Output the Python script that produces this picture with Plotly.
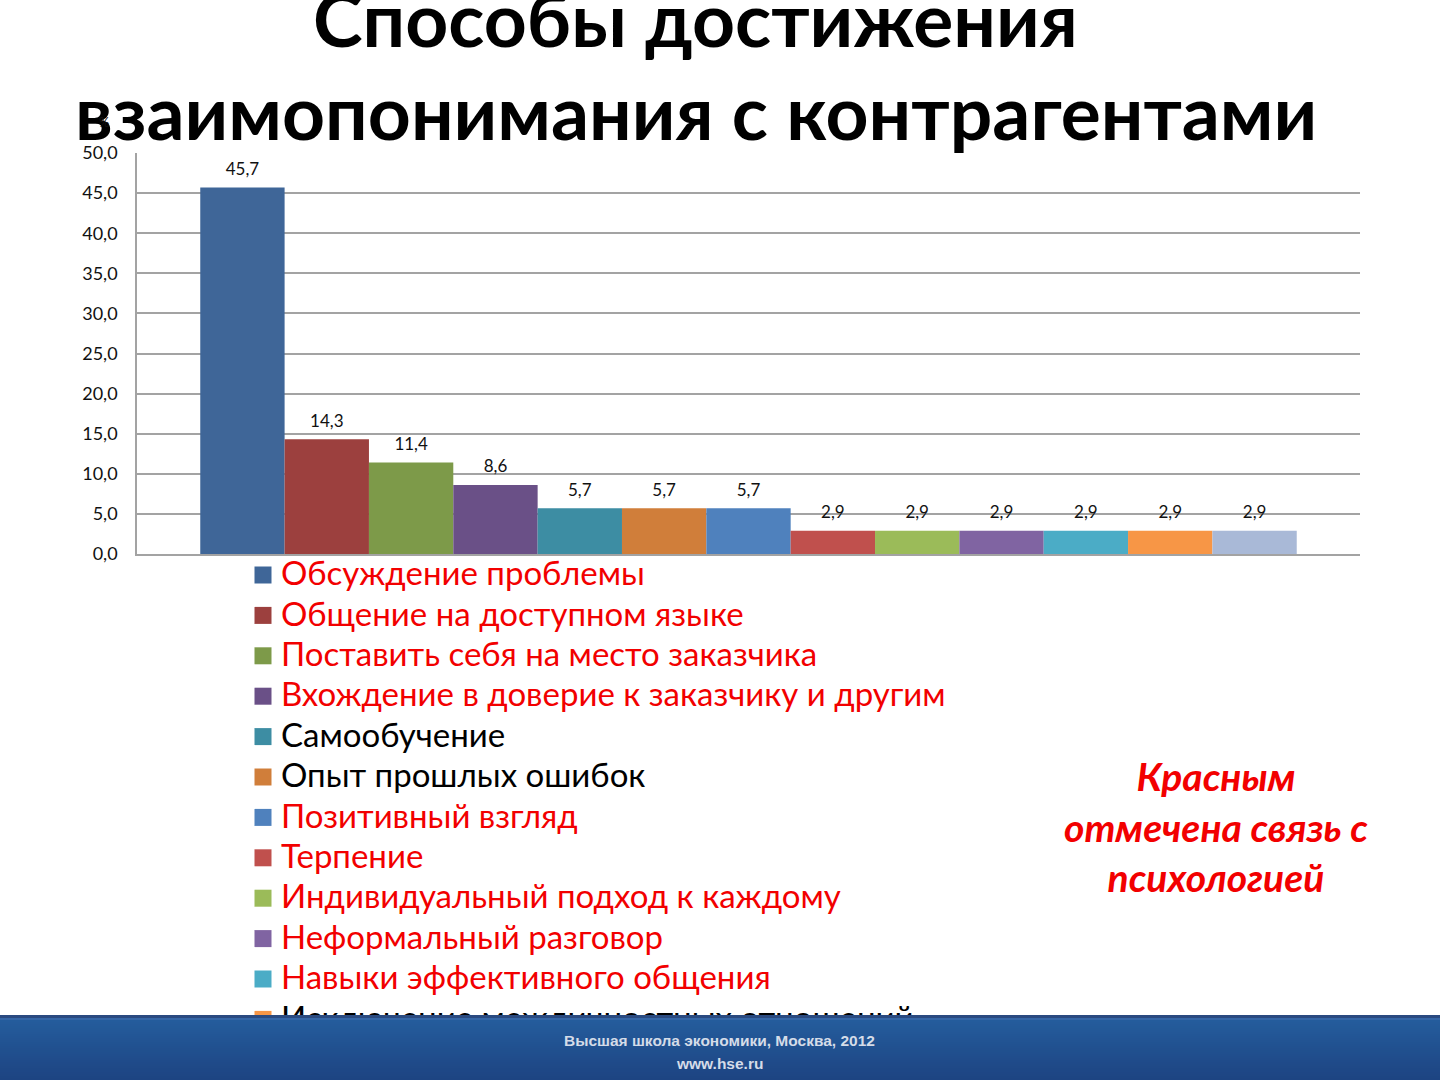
import plotly.graph_objects as go

# ---------------- data ----------------
categories = [
    "Обсуждение проблемы",
    "Общение на доступном языке",
    "Поставить себя на место заказчика",
    "Вхождение в доверие к заказчику и другим",
    "Самообучение",
    "Опыт прошлых ошибок",
    "Позитивный взгляд",
    "Терпение",
    "Индивидуальный подход к каждому",
    "Неформальный разговор",
    "Навыки эффективного общения",
    "Исключение межличностных отношений",
    "Другое",
]
values = [45.7, 14.3, 11.4, 8.6, 5.7, 5.7, 5.7, 2.9, 2.9, 2.9, 2.9, 2.9, 2.9]
psychology = [True, True, True, True, False, False, True, True, True, True, True, False, False]
colors = ["#3F6698", "#9C403E", "#7D9A49", "#6A5087", "#3D8DA3", "#D07E3A", "#4F81BD",
          "#C0504D", "#9BBB59", "#8064A2", "#4BACC6", "#F79646", "#A9B9D7"]
y_ticks = [0, 5, 10, 15, 20, 25, 30, 35, 40, 45, 50]

W, H = 1440, 1080
RED = "#F20000"
GRID = "#A3A3A3"


def px_y(p):
    return 1 - p / H


def px_x(p):
    return p / W


fig = go.Figure()
idx = list(range(len(categories)))

# bars: 13 series side by side (Excel gap width 150 %)
for i, (name, v, c) in enumerate(zip(categories, values, colors)):
    fig.add_trace(go.Bar(
        x=[i], y=[v], width=1, name=name,
        marker=dict(color=c, line=dict(width=0)),
        showlegend=False, xaxis="x", yaxis="y", hoverinfo="name+y",
    ))

# data labels
fig.add_trace(go.Scatter(
    x=idx, y=values, mode="markers+text", texttemplate="%{y:.1f}",
    textposition="top center",
    marker=dict(size=12, opacity=0),
    textfont=dict(family="Lato", size=17, color="#111111"),
    cliponaxis=False, showlegend=False, xaxis="x", yaxis="y", hoverinfo="skip",
))

# custom legend (clipped by the footer)
fig.add_trace(go.Scatter(
    x=[263] * len(idx), y=idx, mode="markers",
    marker=dict(symbol="square", size=17, color=colors, line=dict(width=0)),
    xaxis="x2", yaxis="y2", showlegend=False, cliponaxis=True, hoverinfo="skip",
))
fig.add_trace(go.Scatter(
    x=[281] * len(idx), y=[i + 0.05 for i in idx], mode="text", text=categories,
    textposition="middle right",
    textfont=dict(family="Lato", size=33,
                  color=[RED if p else "#000000" for p in psychology]),
    xaxis="x2", yaxis="y2", showlegend=False, cliponaxis=True, hoverinfo="skip",
))

leg_top, leg_bot, first_c, step = 555, 1015, 575, 40.4
fig.update_layout(
    width=W, height=H,
    margin=dict(l=0, r=0, t=0, b=0, pad=0, autoexpand=False),
    paper_bgcolor="white", plot_bgcolor="white",
    separators=", ",
    barmode="overlay",
    xaxis=dict(domain=[px_x(137), px_x(1360)], range=[-1.25, len(idx) + 0.25],
               showticklabels=False, showgrid=False, zeroline=False, automargin=False,
               showline=True, linecolor=GRID, linewidth=1.5, ticks="", anchor="y"),
    yaxis=dict(domain=[px_y(554), px_y(153)], range=[0, 50],
               tickvals=y_ticks, tickformat=".1f", automargin=False,
               showgrid=True, gridcolor=GRID, gridwidth=1.5,
               zeroline=False, showline=True, linecolor=GRID, linewidth=1.5,
               ticks="", ticklabelstandoff=14, anchor="x",
               tickfont=dict(family="Lato", size=18, color="#111111")),
    xaxis2=dict(domain=[0, 1], range=[0, W], visible=False, anchor="y2",
                automargin=False),
    yaxis2=dict(domain=[px_y(leg_bot), px_y(leg_top)],
                range=[(leg_bot - first_c) / step, (leg_top - first_c) / step],
                visible=False, anchor="x2", automargin=False),
)

annotations = [
    dict(text="<b>Способы достижения</b>", x=px_x(695), y=px_y(18),
         font=dict(family="Lato", size=75, color="#000000")),
    dict(text="<b>взаимопонимания с контрагентами</b>", x=px_x(696), y=px_y(111),
         font=dict(family="Lato", size=75, color="#000000")),
    dict(text="%", x=px_x(104), y=px_y(122),
         font=dict(family="Lato", size=13, color="#111111")),
    dict(text="<b><i>Красным<br>отмечена связь с<br>психологией</i></b>",
         x=px_x(1216), y=px_y(826),
         font=dict(family="Lato", size=39, color=RED)),
    dict(text="<b>Высшая школа экономики, Москва, 2012</b>", x=px_x(719), y=px_y(1040),
         font=dict(family="Liberation Sans", size=15.5, color="#D5DCE8")),
    dict(text="<b>www.hse.ru</b>", x=px_x(719), y=px_y(1063),
         font=dict(family="Liberation Sans", size=15.5, color="#D5DCE8")),
]
for a in annotations:
    a.update(xref="paper", yref="paper", showarrow=False,
             xanchor="center", yanchor="middle")
fig.update_layout(annotations=annotations)


# footer band (vertical gradient built from thin strips)
def mix(c1, c2, t):
    a = [int(c1[k:k + 2], 16) for k in (1, 3, 5)]
    b = [int(c2[k:k + 2], 16) for k in (1, 3, 5)]
    return "#" + "".join(f"{round(x + (y - x) * t):02X}" for x, y in zip(a, b))


shapes = [
    dict(type="rect", xref="paper", yref="paper", x0=0, x1=1,
         y0=px_y(1018), y1=px_y(1015), fillcolor="#2A4A80",
         line=dict(width=0), layer="above"),
    dict(type="rect", xref="paper", yref="paper", x0=0, x1=1,
         y0=px_y(1020), y1=px_y(1018), fillcolor="#3566A6",
         line=dict(width=0), layer="above"),
]
top_c, bot_c = "#245C9C", "#1D4381"
for y in range(1020, 1080, 2):
    t = (y - 1020) / 60
    shapes.append(dict(type="rect", xref="paper", yref="paper", x0=0, x1=1,
                       y0=px_y(y + 2.5), y1=px_y(y), fillcolor=mix(top_c, bot_c, t),
                       line=dict(width=0), layer="above"))
fig.update_layout(shapes=shapes)

fig.write_html("out.html")
